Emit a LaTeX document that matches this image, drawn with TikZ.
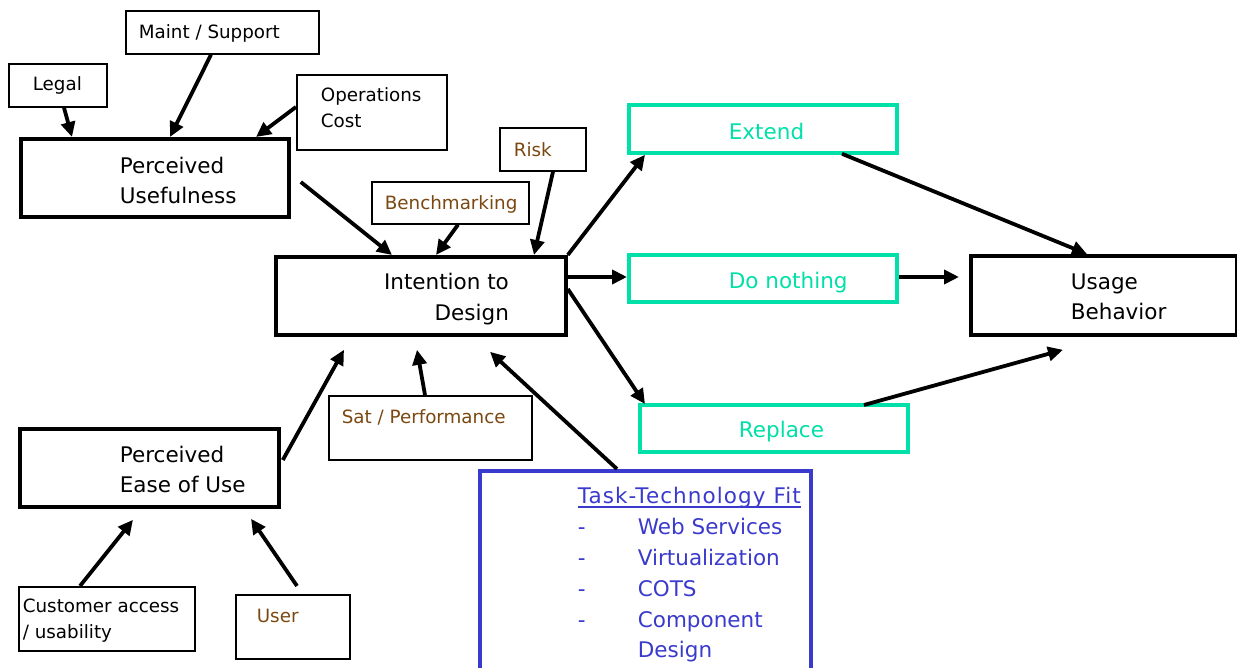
\documentclass[tikz,border=0pt]{standalone}
\usepackage{fontspec}
\setmainfont{DejaVu Sans}
\usetikzlibrary{arrows.meta}
\definecolor{tealc}{RGB}{0,224,168}
\definecolor{brownc}{RGB}{122,72,16}
\definecolor{bluec}{RGB}{58,58,204}
\newcommand\bigf{\fontsize{21.5pt}{30pt}\selectfont}
\newcommand\smallf{\fontsize{18.3pt}{26pt}\selectfont}
% generic text box: W H leftskip rightskip firstbaseline baselineskip content
\newcommand\tbx[7]{\vbox to #2pt{\hsize=#1pt\parindent=0pt\parskip=0pt\parfillskip=0pt\leftskip=#3\rightskip=#4\baselineskip=#6pt\lineskiplimit=-100pt\relax\vskip\dimexpr#5pt-30pt\relax\noindent\rule{0pt}{30pt}#7\par\vss}}
\newcommand\tbl[6]{\tbx{#1}{#2}{#3pt}{0pt plus 1fil}{#4}{#5}{#6}}
\newcommand\tbr[6]{\tbx{#1}{#2}{0pt plus 1fil}{#3pt}{#4}{#5}{#6}}
\newcommand\ulx[1]{\setbox0\hbox{#1}\rlap{\rule[-4pt]{\wd0}{1.6pt}}\box0}
\newcommand\itm[1]{\makebox[60pt][l]{-}#1}
\begin{document}
\begin{tikzpicture}[x=1pt,y=-1pt,
  thinbox/.style={draw, line width=1.7pt, inner sep=0pt, anchor=north west, font=\smallf},
  thickbox/.style={draw, line width=3.8pt, inner sep=0pt, anchor=north west, font=\bigf},
  tealbox/.style={draw=tealc, text=tealc, line width=3.8pt, inner sep=0pt, anchor=north west, font=\bigf},
  bluebox/.style={draw=bluec, text=bluec, line width=3.8pt, inner sep=0pt, anchor=north west, font=\bigf},
  brown/.style={text=brownc},
  arr/.style={line width=3.8pt, -{Triangle[length=15pt,width=14pt]}}]
\useasboundingbox (0,0) rectangle (1237,668);
\fill[white] (0,0) rectangle (1237,668);

\node[thinbox] (legal) at (8,63) {\tbl{98}{43}{24}{27}{26}{Legal}};
\node[thinbox] (maint) at (125,10) {\tbl{193}{43}{13}{28}{26}{Maint / Support}};
\node[thinbox] (ops) at (296,74) {\tbl{150}{75}{24}{27}{26}{Operations\par Cost}};
\node[thickbox] (pu) at (19,137) {\tbl{268}{78}{99}{35}{30}{Perceived\par Usefulness}};
\node[thinbox,brown] (bench) at (371,181) {\tbl{157}{42}{13}{28}{26}{Benchmarking}};
\node[thinbox,brown] (risk) at (499,127) {\tbl{86}{43}{14}{29}{26}{Risk}};
\node[thickbox] (itd) at (274,255) {\tbr{290}{78}{57}{33}{31}{Intention to\par Design}};
\node[tealbox] (extend) at (627,103) {\tbl{268}{48}{100}{35}{30}{Extend}};
\node[tealbox] (don) at (627,253) {\tbl{268}{47}{100}{34}{30}{Do nothing}};
\node[tealbox] (replace) at (638,403) {\tbl{268}{47}{99}{33}{30}{Replace}};
\node[thickbox] (usage) at (969,254) {\tbl{266}{79}{100}{34}{30}{Usage\par Behavior}};
\node[thinbox,brown] (sat) at (328,395) {\tbl{203}{64}{13}{28}{26}{Sat / Performance}};
\node[thickbox] (peou) at (18,427) {\tbl{259}{78}{100}{34}{30}{Perceived\par Ease of Use}};
\node[thinbox] (cust) at (18,586) {\tbl{176}{64}{4}{26}{26}{Customer access\par / usability}};
\node[thinbox,brown] (user) at (235,594) {\tbl{114}{64}{21}{28}{26}{User}};
\node[bluebox] (ttf) at (478,469) {\tbl{331}{215}{98}{33}{30.8}{\ulx{\addfontfeature{LetterSpace=5}Task-Technology Fit}\par \itm{Web Services}\par \itm{Virtualization}\par \itm{COTS}\par \itm{Component}\par \hspace*{60pt}Design}};

\draw[arr] ([shift={(56,0)}]legal.south west) -- ([shift={(53,0)}]pu.north west);
\draw[arr] ([shift={(86,0)}]maint.south west) -- ([shift={(151,0)}]pu.north west);
\draw[arr] ([shift={(0,33)}]ops.north west) -- ([shift={(237,0)}]pu.north west);
\draw[arr] ([shift={(10,45)}]pu.north east) -- ([shift={(118,0)}]itd.north west);
\draw[arr] ([shift={(87,0)}]bench.south west) -- ([shift={(162,0)}]itd.north west);
\draw[arr] ([shift={(54,0)}]risk.south west) -- ([shift={(260,0)}]itd.north west);
\draw[arr] (itd.north east) -- ([shift={(18,0)}]extend.south west);
\draw[arr] ([shift={(0,22)}]itd.north east) -- ([shift={(0,24)}]don.north west);
\draw[arr] ([shift={(0,34)}]itd.north east) -- ([shift={(7,1)}]replace.north west);
\draw[arr] ([shift={(215,-1)}]extend.south west) -- ([shift={(118,0)}]usage.north west);
\draw[arr] ([shift={(0,24)}]don.north east) -- ([shift={(-10,23)}]usage.north west);
\draw[arr] ([shift={(226,2)}]replace.north west) -- ([shift={(94,13)}]usage.south west);
\draw[arr] ([shift={(97,0)}]sat.north west) -- ([shift={(143,13)}]itd.south west);
\draw[arr] ([shift={(2,33)}]peou.north east) -- ([shift={(70,13)}]itd.south west);
\draw[arr] ([shift={(139,0)}]ttf.north west) -- ([shift={(216,15)}]itd.south west);
\draw[arr] ([shift={(62,0)}]cust.north west) -- ([shift={(115,11)}]peou.south west);
\draw[arr] ([shift={(62,-8)}]user.north west) -- ([shift={(233,10)}]peou.south west);
\end{tikzpicture}
\end{document}
